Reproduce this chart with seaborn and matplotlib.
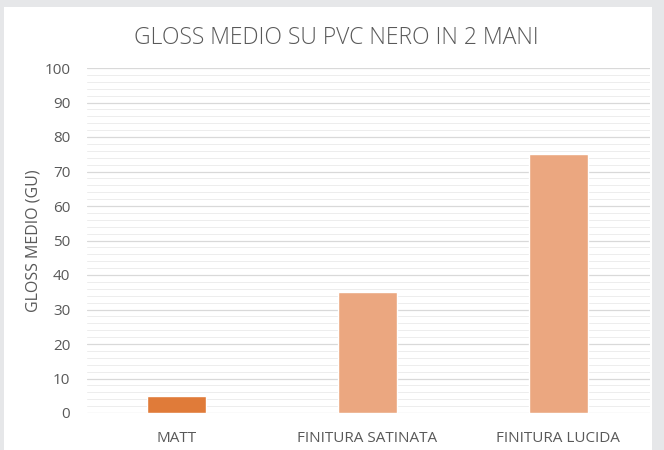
import numpy as np
import seaborn as sns
import matplotlib.pyplot as plt
import matplotlib.patches as mpatches
import pandas as pd

categories = ["MATT", "FINITURA SATINATA", "FINITURA LUCIDA"]
gloss = [5, 35, 75]
bar_colors = ["#E07B39", "#EBA780", "#EBA780"]

sns.set_theme(style="white")
plt.rcParams['font.family'] = ['Open Sans', 'DejaVu Sans']

text_col = "#595959"
fig = plt.figure(figsize=(6.64, 4.5), dpi=100, facecolor="#E6E7E9")
# white card behind the chart
card = mpatches.Rectangle((4/664, 0), 648/664, 443/450, transform=fig.transFigure,
                          facecolor="white", edgecolor="none", zorder=-5)
fig.patches.append(card)
ax = fig.add_axes([87/664, 1 - 413/450, 563/664, 345/450])
ax.set_facecolor("white")

df = pd.DataFrame({"cat": categories, "val": gloss})
sns.barplot(data=df, x="cat", y="val", hue="cat", palette=bar_colors, legend=False,
            width=0.31, ax=ax, saturation=1, zorder=3)

ax.set_ylim(0, 100)
ax.set_xlim(-0.47, 2.48)
ax.set_yticks(np.arange(0, 101, 10))
ax.set_yticks(np.arange(0, 101, 2), minor=True)
ax.yaxis.grid(True, which="major", color="#D9D9D9", linewidth=0.9, zorder=0)
ax.yaxis.grid(True, which="minor", color="#EDEDED", linewidth=0.7, zorder=0)
ax.set_axisbelow(True)
for s in ax.spines.values():
    s.set_visible(False)
ax.tick_params(axis="both", which="both", length=0, colors=text_col, labelsize=11)
ax.tick_params(axis="x", pad=13)
ax.tick_params(axis="y", pad=12)
ax.set_xlabel("")
ax.set_ylabel("GLOSS MEDIO (GU)", color=text_col, fontsize=11.5, labelpad=2)
fig.text(336/664, 1 - 38/450, "GLOSS MEDIO SU PVC NERO IN 2 MANI", ha="center", va="center",
         color=text_col, fontsize=16.5, fontweight="light")

plt.savefig("out.png", dpi=100, facecolor=fig.get_facecolor())
